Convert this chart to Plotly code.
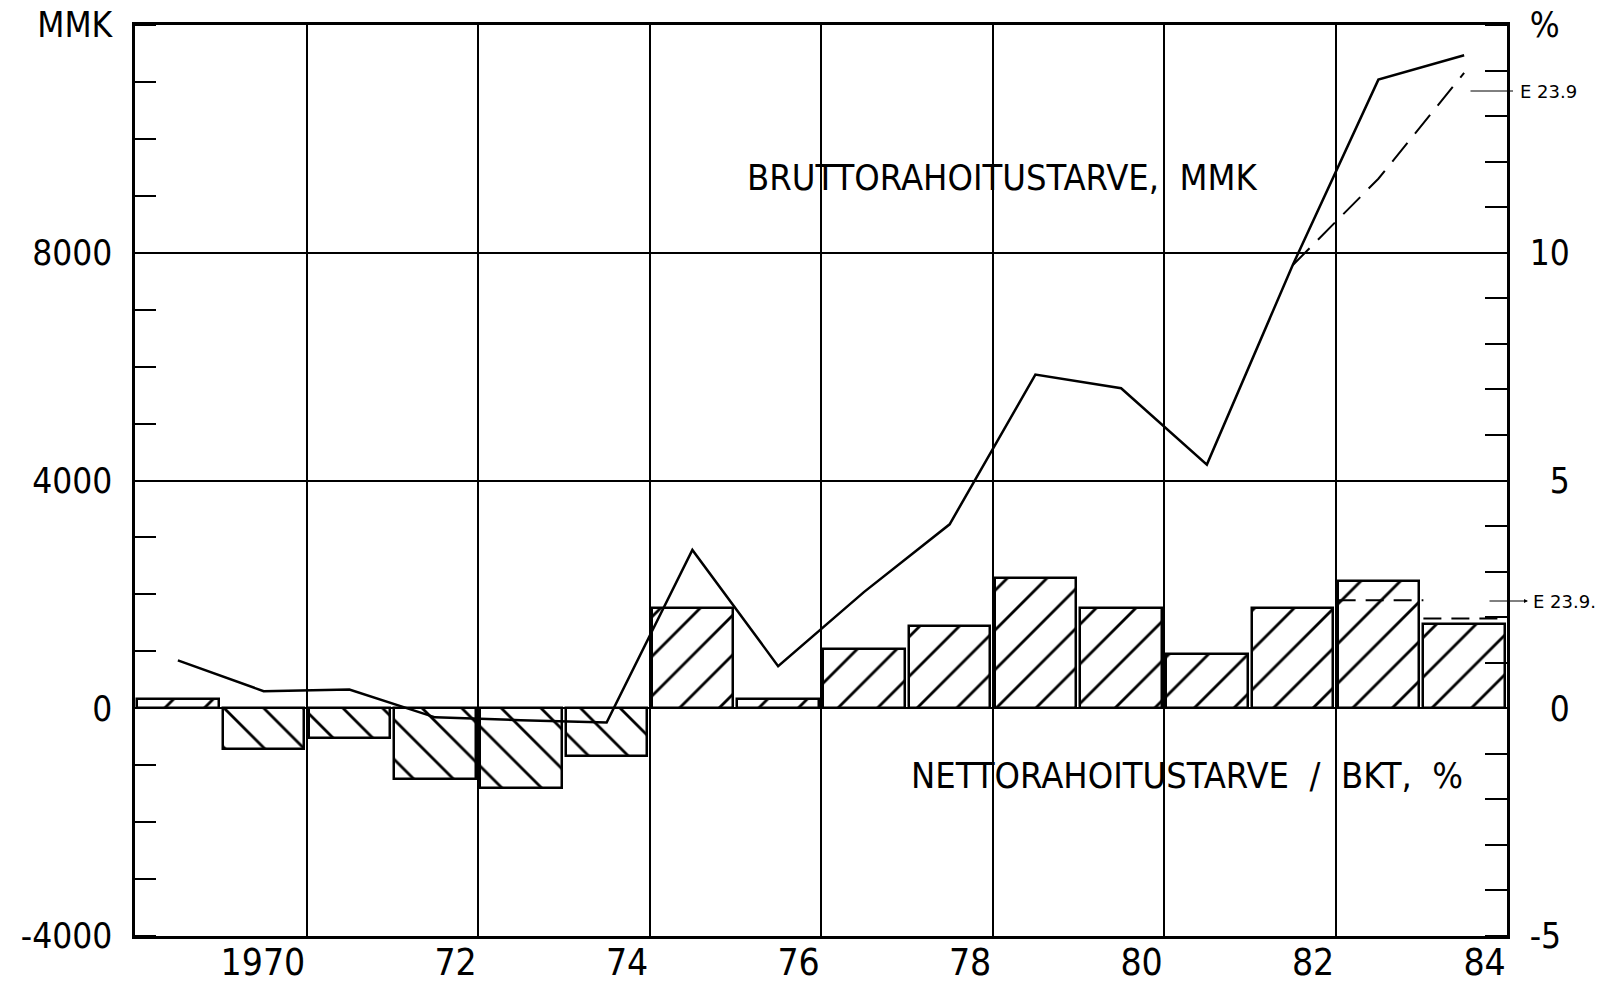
import plotly.graph_objects as go

# ---------------- data ----------------
years = [1969, 1970, 1971, 1972, 1973, 1974, 1975, 1976,
         1977, 1978, 1979, 1980, 1981, 1982, 1983, 1984]
# Nettorahoitustarve / BKT, %  (bars, right axis)
net_pct = [0.2, -0.9, -0.65, -1.55, -1.75, -1.05, 2.2, 0.2,
           1.3, 1.8, 2.85, 2.2, 1.2, 2.2, 2.8, 1.85]
# Bruttorahoitustarve, MMK (line, left axis)
gross_mmk = [840, 300, 330, -160, -210, -250, 2780, 740,
             2040, 3230, 5860, 5620, 4280, 7780, 11040, 11470]
# Estimate (E 23.9.) values
est_years = [1982, 1983, 1984]
est_mmk = [7780, 9300, 11160]
est_pct_years = [1983, 1984]
est_pct = [2.37, 1.97]

x_tickvals = [1970.5, 1972.5, 1974.5, 1976.5, 1978.5, 1980.5, 1982.5, 1984.5]
x_ticktext = ["1970", "72", "74", "76", "78", "80", "82", "84"]
left_tickvals = [-4000, 0, 4000, 8000, 12000]
left_ticktext = ["-4000", "0", "4000", "8000", "MMK"]
right_tickvals = [-5, 0, 5, 10, 15]
right_ticktext = ["-5", "\u20070", "\u20075", "10", "%"]

label_gross = "BRUTTORAHOITUSTARVE,\u00a0 MMK"
label_net = "NETTORAHOITUSTARVE\u00a0 /\u00a0 BKT,\u00a0 %"
est_label_top = "E 23.9"
est_label_bottom = "E 23.9."

# ---------------- figure ----------------
FAM = "DejaVu Sans Condensed, DejaVu Sans, sans-serif"
YTICKFONT = dict(family=FAM, size=35, color="black")
XTICKFONT = dict(family=FAM, size=37, color="black")
LABELFONT = dict(family=FAM, size=36, color="black")
SMALLFONT = dict(family="DejaVu Sans, sans-serif", size=18, color="black")

bar_w = 0.95
fig = go.Figure()

fig.add_trace(go.Bar(
    x=years, y=net_pct, width=bar_w, yaxis="y",
    marker=dict(
        color="white",
        line=dict(color="black", width=2.5),
        pattern=dict(shape=["/" if v >= 0 else "\\" for v in net_pct],
                     fgcolor="black", bgcolor="white", size=28, solidity=0.1),
    ),
    showlegend=False, hoverinfo="x+y",
))

# dashed estimate steps on the % axis
sx, sy = [], []
for yr, v in zip(est_pct_years, est_pct):
    sx += [yr - 0.5 * bar_w, yr + 0.5 * bar_w + 0.05, None]
    sy += [v, v, None]
fig.add_trace(go.Scatter(
    x=sx, y=sy, yaxis="y", mode="lines",
    line=dict(color="black", width=2, dash="18px,10px"),
    showlegend=False, hoverinfo="skip",
))

fig.add_trace(go.Scatter(
    x=years, y=gross_mmk, yaxis="y2", mode="lines",
    line=dict(color="black", width=2.5),
    showlegend=False,
))
fig.add_trace(go.Scatter(
    x=est_years, y=est_mmk, yaxis="y2", mode="lines",
    line=dict(color="black", width=2, dash="24px,12px"),
    showlegend=False,
))

W, H = 1621, 985
L, R, T, B = 135, 114, 25, 49
pw, ph = W - L - R, H - T - B


def px(xp):
    return (xp - L) / pw


def py(yp):
    return (H - B - yp) / ph


annotations = [
    dict(text=label_gross, xref="paper", yref="paper", x=px(1002), y=py(178),
         showarrow=False, font=LABELFONT, xanchor="center", yanchor="middle"),
    dict(text=label_net, xref="paper", yref="paper", x=px(1187), y=py(775),
         showarrow=False, font=LABELFONT, xanchor="center", yanchor="middle"),
    # top estimate label
    dict(text="", xref="paper", yref="paper", x=px(1513), y=py(91),
         ax=-44, ay=0, showarrow=True, arrowhead=0, arrowwidth=1, arrowcolor="black"),
    dict(text=est_label_top, xref="paper", yref="paper", x=px(1518), y=py(92),
         showarrow=False, xanchor="left", yanchor="middle", font=SMALLFONT),
    # bottom estimate label
    dict(text="", xref="paper", yref="paper", x=px(1528), y=py(601),
         ax=-40, ay=0, showarrow=True, arrowhead=2, arrowsize=0.8,
         arrowwidth=1, arrowcolor="black"),
    dict(text=est_label_bottom, xref="paper", yref="paper", x=px(1531), y=py(601),
         showarrow=False, xanchor="left", yanchor="middle", font=SMALLFONT),
]

fig.update_layout(
    template="none",
    width=W, height=H,
    margin=dict(l=L, r=R, t=T, b=B, pad=0, autoexpand=False),
    paper_bgcolor="white", plot_bgcolor="white",
    bargap=0,
    showlegend=False,
    xaxis=dict(
        range=[1968.5, 1984.5], automargin=False,
        tickmode="array", tickvals=x_tickvals, ticktext=x_ticktext,
        ticklabelposition="outside left", ticks="", tickfont=XTICKFONT,
        showgrid=True, gridcolor="black", gridwidth=1.5,
        showline=True, linecolor="black", linewidth=2.5, mirror=True,
        zeroline=False, ticklabelstandoff=-8,
    ),
    yaxis=dict(  # % axis (right)
        side="right", range=[-5, 15], automargin=False,
        tickmode="array", tickvals=right_tickvals, ticktext=right_ticktext,
        ticks="", tickfont=YTICKFONT, ticklabelstandoff=13,
        minor=dict(tickmode="linear", tick0=0, dtick=1, ticks="inside",
                   ticklen=22, tickwidth=2, tickcolor="black", showgrid=False),
        showgrid=False, zeroline=False,
        showline=True, linecolor="black", linewidth=2.5,
    ),
    yaxis2=dict(  # MMK axis (left)
        side="left", overlaying="y", range=[-4000, 12000], automargin=False,
        tickmode="array", tickvals=left_tickvals, ticktext=left_ticktext,
        ticks="", tickfont=YTICKFONT, ticklabelstandoff=13,
        minor=dict(tickmode="linear", tick0=0, dtick=1000, ticks="inside",
                   ticklen=21, tickwidth=2, tickcolor="black", showgrid=False),
        showgrid=True, gridcolor="black", gridwidth=1.5, zeroline=False,
        showline=True, linecolor="black", linewidth=2.5,
    ),
    annotations=annotations,
)

fig.write_html("out.html", config={"displayModeBar": False},
               post_script="document.body.style.margin='0';")
